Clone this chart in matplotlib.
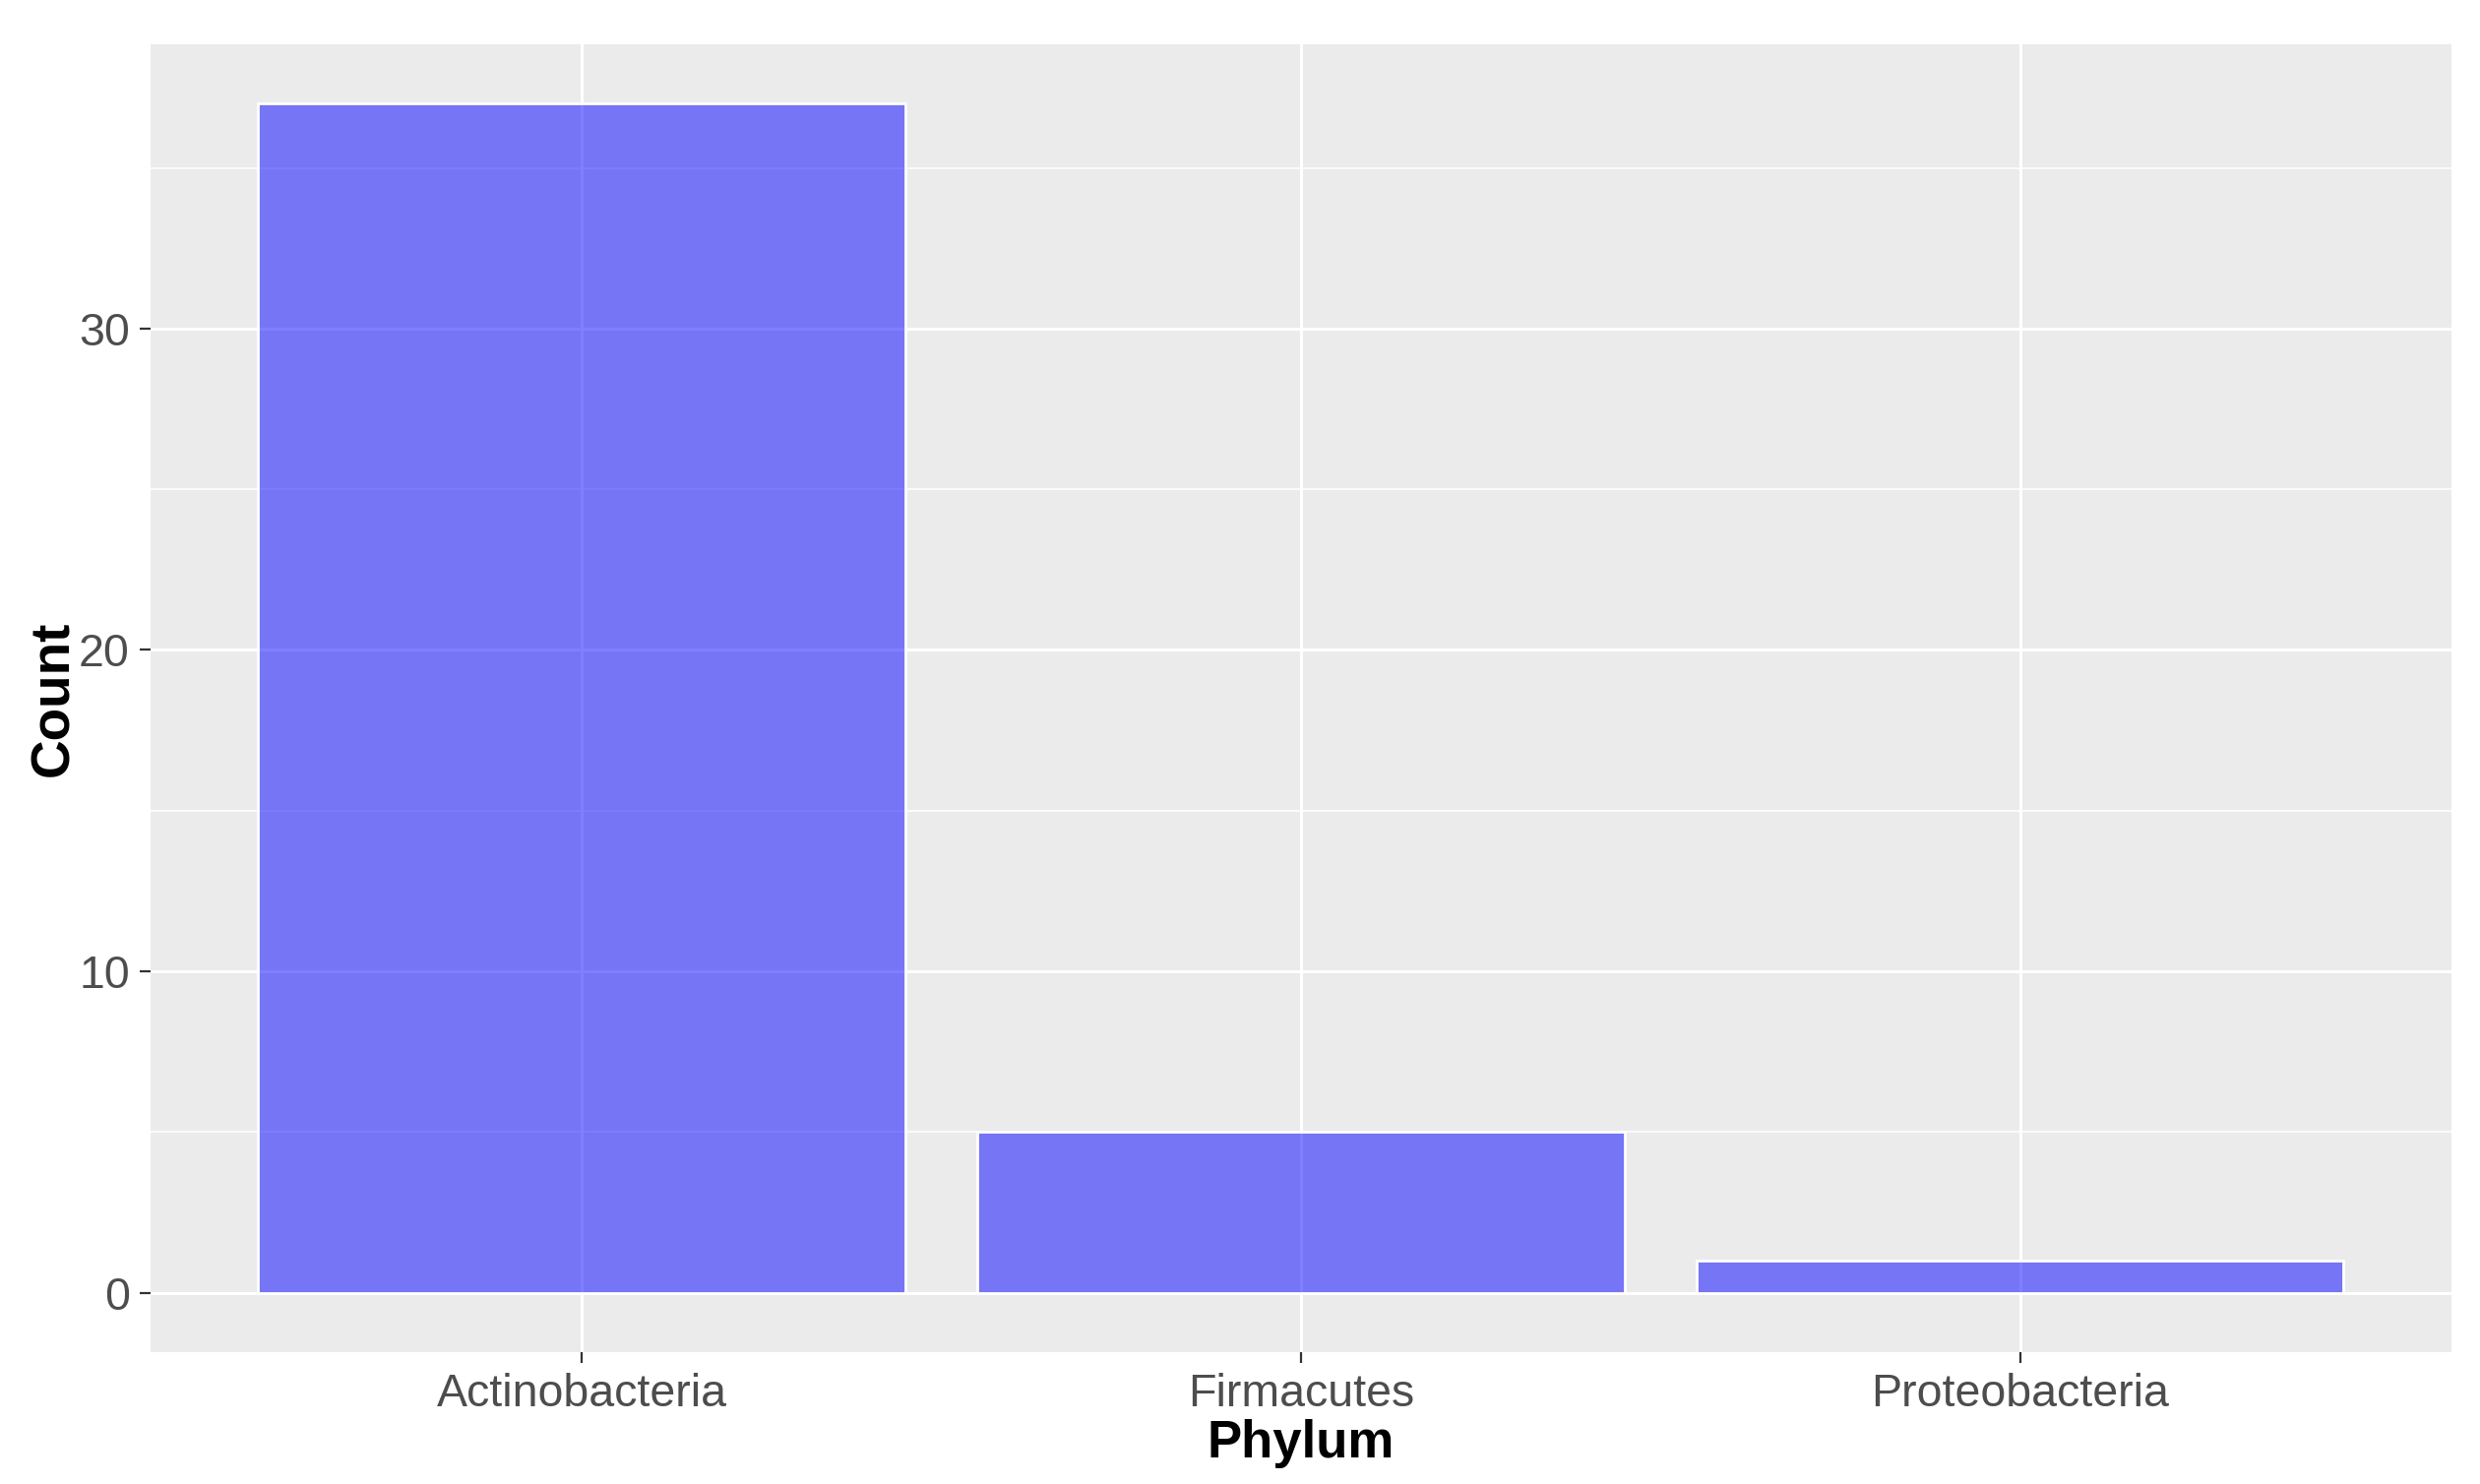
import numpy as np
import matplotlib.pyplot as plt
from matplotlib.ticker import MultipleLocator

# data
phyla = ['Actinobacteria', 'Firmacutes', 'Proteobacteria']
counts = [37, 5, 1]

plt.rcParams['font.family'] = ['Liberation Sans', 'DejaVu Sans']

fig = plt.figure(figsize=(25.2, 15.08), dpi=100)
ax = fig.add_axes([0.0606, 0.0889, 0.9279, 0.9813 - 0.0889 - 0.0111])

x = np.arange(len(phyla))
ax.bar(x, counts, width=0.9, color=(0, 0, 1, 0.5), edgecolor='white', linewidth=2, zorder=3)

# ggplot-like expansion
ax.set_xlim(-0.6, len(phyla) - 0.4)
top = max(counts)
ax.set_ylim(-0.05 * top, top * 1.05)

ax.set_facecolor('#EBEBEB')
for s in ax.spines.values():
    s.set_visible(False)

ax.yaxis.set_major_locator(MultipleLocator(10))
ax.yaxis.set_minor_locator(MultipleLocator(5))
ax.set_xticks(x)
ax.set_xticklabels(phyla)
ax.grid(which='major', color='white', linewidth=2.2, zorder=0)
ax.grid(which='minor', axis='y', color='white', linewidth=1.1, zorder=0)
ax.set_axisbelow(True)

ax.tick_params(axis='both', which='major', length=8, width=1.6, color='#333333',
               labelsize=33.5, labelcolor='#4D4D4D', pad=7)
ax.tick_params(axis='y', which='minor', length=0)

ax.set_xlabel('Phylum', fontsize=38, fontweight='bold', labelpad=2)
ax.set_ylabel('Count', fontsize=39.5, fontweight='bold', labelpad=-1)

fig.savefig('out.png', dpi=100)
